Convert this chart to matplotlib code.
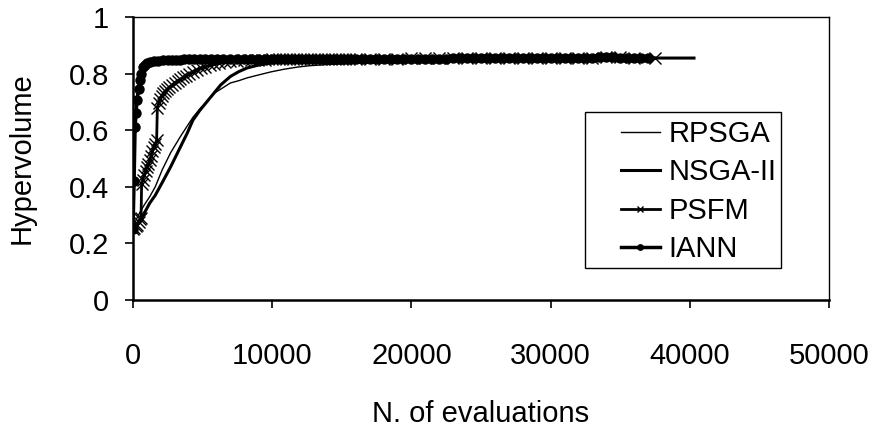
import matplotlib
matplotlib.use("Agg")
import matplotlib.pyplot as plt
from matplotlib.patches import Rectangle

plt.rcParams["font.family"] = ["Liberation Sans", "DejaVu Sans"]

# --- data ---
rpsga_x = [0, 200, 500, 800, 1200, 1600, 2100, 2700, 3400, 3900, 4300, 4800,
           5300, 5800, 6300, 7000, 7600, 8200, 9000, 9900, 10800, 11800,
           12700, 14000, 15600, 17000, 19000, 21000, 24000, 27000, 30000,
           33000, 37000]
rpsga_y = [0.25, 0.28, 0.31, 0.335, 0.365, 0.40, 0.46, 0.52, 0.577, 0.615,
           0.645, 0.675, 0.70, 0.73, 0.745, 0.767, 0.775, 0.785, 0.795, 0.806,
           0.815, 0.823, 0.828, 0.832, 0.835, 0.838, 0.841, 0.844, 0.847,
           0.849, 0.850, 0.851, 0.852]

nsga_x = [0, 300, 600, 900, 1200, 1600, 2100, 2700, 3400, 3900, 4300, 4800,
          5300, 5800, 6300, 7000, 7600, 8200, 9000, 9900, 11000, 12000, 13000,
          14000, 16000, 18000, 20000, 25000, 30000, 35000, 40300]
nsga_y = [0.25, 0.27, 0.29, 0.315, 0.342, 0.37, 0.415, 0.47, 0.54, 0.59,
          0.635, 0.67, 0.70, 0.73, 0.76, 0.79, 0.807, 0.82, 0.83, 0.837,
          0.843, 0.846, 0.848, 0.849, 0.850, 0.851, 0.852, 0.853, 0.854,
          0.855, 0.855]

psfm_x = [0, 100, 200, 300, 400, 500, 580, 620, 700, 800, 900, 1000, 1100,
          1200, 1300, 1400, 1500, 1600, 1700, 1750, 1850, 1950, 2050, 2160,
          2300, 2450, 2600, 2800, 3000, 3200, 3400, 3600, 3800, 4000, 4300,
          4600, 4900, 5200, 5500, 5800, 6200, 6600, 7000, 7500, 8000, 8500,
          9000, 9500, 10000, 10500, 11000, 11500, 12000, 12500, 13000, 13500,
          14000, 14500, 15000, 15500, 16000, 17000, 18000, 19000, 20000,
          21000, 22000, 23000, 24000, 25000, 26000, 27000, 28000, 29000,
          30000, 31000, 32000, 33000, 34000, 35000, 36000, 37500]
psfm_y = [0.25, 0.255, 0.26, 0.265, 0.275, 0.285, 0.29, 0.41, 0.425, 0.44,
          0.455, 0.47, 0.48, 0.495, 0.51, 0.525, 0.54, 0.552, 0.565, 0.68,
          0.695, 0.71, 0.72, 0.73, 0.738, 0.745, 0.752, 0.76, 0.768, 0.775,
          0.78, 0.787, 0.793, 0.798, 0.806, 0.813, 0.819, 0.824, 0.829, 0.833,
          0.837, 0.84, 0.843, 0.845, 0.847, 0.848, 0.849, 0.849, 0.85, 0.85,
          0.851, 0.851, 0.851, 0.852, 0.852, 0.852, 0.852, 0.852, 0.853,
          0.853, 0.853, 0.853, 0.853, 0.853, 0.854, 0.854, 0.854, 0.854,
          0.854, 0.854, 0.855, 0.855, 0.855, 0.855, 0.855, 0.856, 0.856,
          0.856, 0.857, 0.857, 0.856, 0.855]

iann_x = [0, 80, 150, 220, 290, 400, 500, 600, 720, 850, 1000, 1220, 1500,
          1800, 2160, 2500, 2800, 3100, 3400, 3700, 4000, 4400, 4800, 5200,
          5600, 6000, 6500, 7000, 7500, 8000, 8500, 9000, 9500, 10000, 10500,
          11000, 11500, 12000, 12500, 13000, 13500, 14000, 14500, 15000,
          15500, 16000, 16500, 17000, 17500, 18000, 18500, 19000, 19500,
          20000, 20500, 21000, 21500, 22000, 22500, 23000, 23500, 24000,
          24500, 25000, 25500, 26000, 26500, 27000, 27500, 28000, 28500,
          29000, 29500, 30000, 30500, 31000, 31500, 32000, 32500, 33000,
          33500, 34000, 34500, 35000, 35500, 36000, 36500, 37000]
iann_y = [0.25, 0.42, 0.61, 0.66, 0.707, 0.745, 0.777, 0.80, 0.825, 0.832,
          0.836, 0.84, 0.843, 0.846, 0.848, 0.848, 0.849, 0.849, 0.849, 0.85,
          0.85, 0.85, 0.85, 0.85, 0.85, 0.851, 0.851, 0.851, 0.851, 0.851,
          0.851, 0.851, 0.852, 0.852, 0.852, 0.852, 0.852, 0.852, 0.852,
          0.852, 0.852, 0.852, 0.852, 0.852, 0.853, 0.853, 0.853, 0.853,
          0.853, 0.853, 0.853, 0.853, 0.853, 0.853, 0.853, 0.853, 0.853,
          0.853, 0.853, 0.854, 0.854, 0.854, 0.854, 0.854, 0.854, 0.854,
          0.854, 0.854, 0.854, 0.854, 0.854, 0.855, 0.855, 0.855, 0.855,
          0.855, 0.855, 0.855, 0.856, 0.856, 0.857, 0.857, 0.857, 0.856,
          0.856, 0.855, 0.855, 0.855]

x_ticks = [0, 10000, 20000, 30000, 40000, 50000]
y_ticks = [0, 0.2, 0.4, 0.6, 0.8, 1]
y_tick_labels = ["0", "0.2", "0.4", "0.6", "0.8", "1"]

fig = plt.figure(figsize=(8.72, 4.32), dpi=100)
ax = fig.add_axes([0.1525, 0.3056, 0.7982, 0.655])

ax.plot(rpsga_x, rpsga_y, color="black", lw=1.0, label="RPSGA")
ax.plot(nsga_x, nsga_y, color="black", lw=2.2, label="NSGA-II")
ax.plot(psfm_x, psfm_y, color="black", lw=2.0, marker="x", ms=8, mew=1.0,
        label="PSFM")
ax.plot(iann_x, iann_y, color="black", lw=2.5, marker="o", ms=6.5,
        label="IANN")

ax.set_xlim(0, 50000)
ax.set_ylim(0, 1)
ax.set_xticks(x_ticks)
ax.set_xticklabels([str(v) for v in x_ticks])
ax.set_yticks(y_ticks)
ax.set_yticklabels(y_tick_labels)
ax.tick_params(direction="out", length=6, width=1.2, labelsize=21,
               colors="black")
ax.tick_params(axis="y", pad=11)
ax.tick_params(axis="x", pad=24)

for side in ["top", "right"]:
    ax.spines[side].set_linewidth(1.0)
for side in ["left", "bottom"]:
    ax.spines[side].set_linewidth(1.8)

ax.set_xlabel("N. of evaluations", fontsize=21, labelpad=22)
ax.set_ylabel("Hypervolume", fontsize=21, labelpad=24)

# legend box is wider on the left than matplotlib's padding allows
ax.add_patch(Rectangle((0.649, 0.113), 0.282, 0.551, transform=ax.transAxes,
                       facecolor="white", edgecolor="black", lw=1.0,
                       zorder=4))
leg = ax.legend(loc="center", bbox_to_anchor=(0.813, 0.383), fontsize=21,
                frameon=False, handlelength=1.31, handletextpad=0.3,
                labelspacing=0.36, borderpad=0, borderaxespad=0,
                markerscale=0.6)
leg.set_zorder(5)

fig.savefig("out.png", dpi=100)
